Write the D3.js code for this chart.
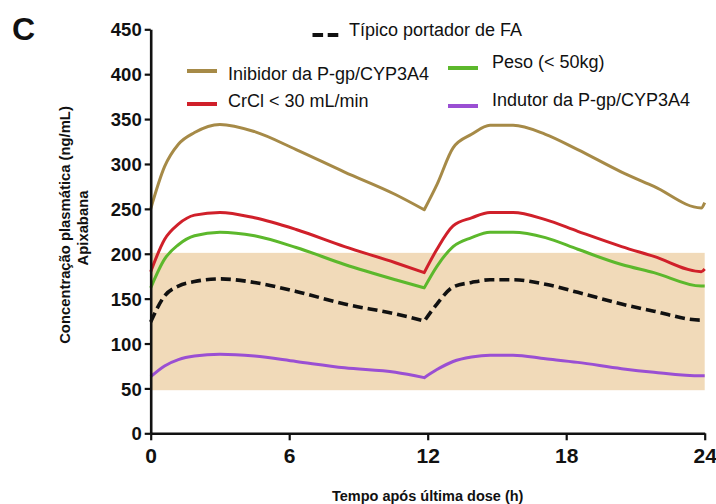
<!DOCTYPE html>
<html>
<head>
<meta charset="utf-8">
<script src="https://cdn.jsdelivr.net/npm/d3@7/dist/d3.min.js"></script>
<style>
  html, body { margin: 0; padding: 0; background: #fff; }
  svg { display: block; }
  text { font-family: "Liberation Sans", Arial, Helvetica, sans-serif; fill: #111; }
</style>
</head>
<body>
<svg id="chart" width="716" height="504"></svg>
<script>
// ---- Data ----
const hours     = [0, 0.6, 1.2, 1.9, 3, 4.5, 6.3, 8.4, 10.6, 11.85, 12.4, 13.1, 13.9, 14.7, 15.7, 17.1, 18.5, 20.4, 21.8, 23.85, 24];
const inibidor  = [250, 297, 322, 335, 344, 336, 316, 291, 266, 249, 277, 318, 333, 343, 343, 333, 316, 291, 275, 251, 257];
const crcl      = [180, 216, 233, 243, 246, 240, 227, 208, 190, 179, 205, 231, 240, 246, 246, 238, 225, 208, 197, 180, 183];
const peso      = [162, 194, 210, 220, 224, 220, 207, 188, 171, 162, 186, 208, 218, 224, 224, 218, 205, 188, 179, 164, 164];
const tipico    = [124, 153, 164, 169, 172, 168, 158, 144, 133, 125, 144, 163, 168, 171, 171, 166, 157, 144, 136, 126, 126];
const indutor   = [63, 75, 82, 86, 88, 86, 80, 73, 68, 62, 71, 80, 85, 87, 87, 83, 79, 72, 68, 64, 64];
const secondDoseIndex = 9;   // index in hours where the second dose starts (trough)

const seriesNames  = ["Inibidor da P-gp/CYP3A4", "CrCl < 30 mL/min", "Peso (< 50kg)", "Indutor da P-gp/CYP3A4", "Típico portador de FA"];
const seriesValues = [inibidor, crcl, peso, indutor, tipico];
const seriesColors = ["#a68a47", "#d0202a", "#5cb82c", "#9a4fd3", "#111111"];

const bandRange   = [48, 201];          // shaded therapeutic range
const yTicks      = [0, 50, 100, 150, 200, 250, 300, 350, 400, 450];
const xTicks      = [0, 6, 12, 18, 24];
const xLabel      = "Tempo após última dose (h)";
const yLabelLines = ["Concentração plasmática (ng/mL)", "Apixabana"];
const panelLabel  = "C";

// ---- Scales ----
const svg = d3.select("#chart");
const x = d3.scaleLinear().domain([0, 24]).range([150.7, 704.7]);
const y = d3.scaleLinear().domain([0, 450]).range([433.3, 29.3]);

// band
svg.append("rect")
  .attr("x", x(0)).attr("width", x(24) - x(0))
  .attr("y", y(bandRange[1])).attr("height", y(bandRange[0]) - y(bandRange[1]))
  .attr("fill", "#f1dab9");

// lines: each dose interval is smoothed separately so the trough stays sharp
const line = d3.line().x(d => x(d[0])).y(d => y(d[1])).curve(d3.curveMonotoneX);
seriesValues.forEach((vals, k) => {
  const pts = vals.map((v, i) => [hours[i], v]);
  const seg1 = pts.slice(0, secondDoseIndex + 1);
  const seg2 = pts.slice(secondDoseIndex);
  const d = line(seg1) + line(seg2).replace(/^M[^CL]*/, "");
  const p = svg.append("path")
    .attr("d", d)
    .attr("fill", "none")
    .attr("stroke", seriesColors[k])
    .attr("stroke-width", k === 4 ? 3.6 : 3)
    .attr("stroke-linejoin", "round");
  if (k === 4) p.attr("stroke-dasharray", "10,5");
});

// axes
const yAxis = svg.append("g").attr("transform", `translate(${x(0)},0)`)
  .call(d3.axisLeft(y).tickValues(yTicks).tickSize(6).tickSizeOuter(0).tickPadding(3));
const xAxis = svg.append("g").attr("transform", `translate(0,${y(0)})`)
  .call(d3.axisBottom(x).tickValues(xTicks).tickSize(7).tickSizeOuter(0).tickPadding(8));
[yAxis, xAxis].forEach(g => {
  g.select(".domain").attr("stroke", "#111").attr("stroke-width", 2.6);
  g.selectAll(".tick line").attr("stroke", "#111").attr("stroke-width", 2.2);
  g.selectAll(".tick text").attr("fill", "#111").attr("font-weight", "bold")
    .attr("font-family", '"Liberation Sans", Arial, sans-serif');
});
yAxis.selectAll(".tick text").attr("font-size", 18.5).attr("dy", "0.36em");
xAxis.selectAll(".tick text").attr("font-size", 21).attr("dy", "0.72em");

// axis titles
svg.append("text").attr("x", x(12)).attr("y", 501)
  .attr("text-anchor", "middle").attr("font-weight", "bold").attr("font-size", 14.5)
  .text(xLabel);
yLabelLines.forEach((t, i) => {
  svg.append("text")
    .attr("transform", `translate(${i === 0 ? 70 : 88},${i === 0 ? 225 : 228}) rotate(-90)`)
    .attr("text-anchor", "middle").attr("font-weight", "bold").attr("font-size", 14.8)
    .text(t);
});

// panel label
svg.append("text").attr("x", 12).attr("y", 40)
  .attr("font-weight", "bold").attr("font-size", 32).text(panelLabel);

// legend
const legendPos = [
  { lx: 187, ly: 71, tx: 228, ty: 80 },
  { lx: 187, ly: 104, tx: 228, ty: 107 },
  { lx: 448, ly: 68, tx: 492, ty: 68 },
  { lx: 448, ly: 106, tx: 492, ty: 106 },
  { lx: 312.5, ly: 35, tx: 349, ty: 36 }
];
seriesNames.forEach((name, k) => {
  const p = legendPos[k];
  const w = k === 4 ? 26 : 30;
  const l = svg.append("line")
    .attr("x1", p.lx).attr("x2", p.lx + w).attr("y1", p.ly).attr("y2", p.ly)
    .attr("stroke", seriesColors[k]).attr("stroke-width", 4);
  if (k === 4) l.attr("stroke-dasharray", "10.6,4.6");
  svg.append("text").attr("x", p.tx).attr("y", p.ty)
    .attr("font-size", 18).attr("fill", "#1a1a1a").text(name);
});
</script>
</body>
</html>
